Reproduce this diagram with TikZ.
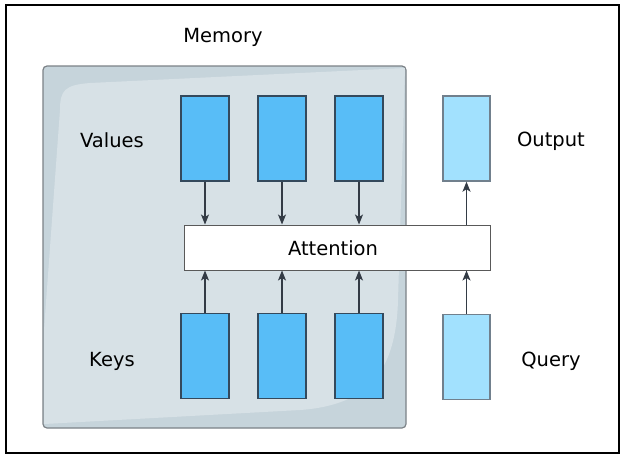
\documentclass[tikz,border=0pt]{standalone}
\usepackage{fontspec}
\setmainfont{DejaVu Sans}
\usetikzlibrary{arrows.meta}
\definecolor{memdark}{HTML}{C6D4DB}
\definecolor{memlight}{HTML}{D7E1E6}
\definecolor{memedge}{HTML}{7C8287}
\definecolor{vecblue}{HTML}{58BDF7}
\definecolor{veclight}{HTML}{A2E1FE}
\definecolor{vecedge}{HTML}{34495C}
\definecolor{arrowc}{HTML}{333B45}
\tikzset{
  lbl/.style={font=\fontsize{19.5}{23}\selectfont, text=black, inner sep=0pt},
  vec/.style={draw=vecedge, line width=1.4pt, fill=vecblue, minimum width=48pt, minimum height=85pt, inner sep=0pt},
  vecq/.style={draw=vecedge!70, line width=1.4pt, fill=veclight, minimum width=47pt, minimum height=85pt, inner sep=0pt},
  att/.style={draw=black!65, line width=1pt, fill=white, minimum width=306pt, minimum height=45pt, inner sep=0pt},
  arr/.style={draw=arrowc, line width=1.1pt, -{Stealth[length=10pt,width=8pt,inset=2.5pt]}}
}
\begin{document}
\begin{tikzpicture}[x=1pt,y=-1pt]
\useasboundingbox (0,0) rectangle (626,459);
\fill[white] (0,0) rectangle (626,459);
\draw[black, line width=1.3pt] (6,5) rectangle (619,453);
% memory
\draw[memedge, fill=memdark, line width=1.2pt, rounded corners=4pt] (43,66) rectangle (406,428);
\fill[memlight] (60,110) .. controls (60,90) and (65,85) .. (90,83) -- (405,68) -- (398,300) .. controls (396,370) and (370,405) .. (300,410) -- (44,424) -- (44,330) -- cycle;
\node[lbl] (mem) at (223,37) {Memory};
\node[lbl] (vl) at (112,140) {Values};
\node[lbl] (kl) at (112,361) {Keys};
\node[lbl] (ol) at (551,141) {Output};
\node[lbl] (ql) at (551,361) {Query};
\node[att] (att) at (337,247.5) {};
\node[lbl] (attl) at (333,248) {Attention};
\node[vec] (v1) at (205,138.5) {};
\node[vec] (v2) at (282,138.5) {};
\node[vec] (v3) at (359,138.5) {};
\node[vec] (k1) at (205,356) {};
\node[vec] (k2) at (282,356) {};
\node[vec] (k3) at (359,356) {};
\node[vecq] (o) at (466.5,138.5) {};
\node[vecq] (q) at (466.5,357) {};
\foreach \n in {v1,v2,v3}{\draw[arr] (\n.south) -- (\n.south |- att.north);}
\foreach \n in {k1,k2,k3}{\draw[arr] (\n.north) -- (\n.north |- att.south);}
\draw[arr] (att.north -| o.south) -- (o.south);
\draw[arr] (q.north) -- (q.north |- att.south);
\end{tikzpicture}
\end{document}
